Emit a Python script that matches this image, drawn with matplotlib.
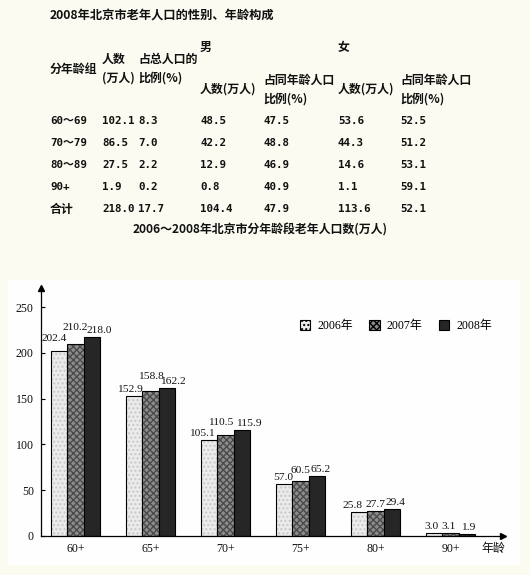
import matplotlib
matplotlib.use('Agg')
import matplotlib.pyplot as plt
import numpy as np
from matplotlib.patches import Rectangle, Patch

# table data (2008)
title = '2008年北京市老年人口的性别、年龄构成'
row_names = ['60～69', '70～79', '80～89', '90+', '合计']
total = [102.1, 86.5, 27.5, 1.9, 218.0]
share = [8.3, 7.0, 2.2, 0.2, 17.7]
male = [48.5, 42.2, 12.9, 0.8, 104.4]
male_pct = [47.5, 48.8, 46.9, 40.9, 47.9]
female = [53.6, 44.3, 14.6, 1.1, 113.6]
female_pct = [52.5, 51.2, 53.1, 59.1, 52.1]

# bar chart data
subtitle = '2006～2008年北京市分年龄段老年人口数(万人)'
age_groups = ['60+', '65+', '70+', '75+', '80+', '90+']
years = ['2006年', '2007年', '2008年']
pop_2006 = [202.4, 152.9, 105.1, 57.0, 25.8, 3.0]
pop_2007 = [210.2, 158.8, 110.5, 60.5, 27.7, 3.1]
pop_2008 = [218.0, 162.2, 115.9, 65.2, 29.4, 1.9]

W, H = 530, 575
fig = plt.figure(figsize=(W / 100, H / 100), dpi=100)
fig.patch.set_facecolor('#fcfbf1')

cjk = ['Noto Sans CJK SC', 'DejaVu Sans']
mono = ['DejaVu Sans Mono', 'Noto Sans CJK SC']
serif = ['Liberation Serif', 'Noto Sans CJK SC']


def put(x, y, s, fam=cjk, size=8.6, **kw):
    fig.text(x / W, 1 - y / H, s, family=fam, fontsize=size, fontweight='bold',
             va='center', ha=kw.pop('ha', 'left'), color='#111111', **kw)


# ---- table part ----
put(50, 15, title, size=8.8)
put(200, 47, '男')
put(338, 47, '女')
put(50, 69, '分年龄组')
put(102, 59, '人数')
put(102, 78, '(万人)')
put(138, 59, '占总人口的')
put(138, 78, '比例(%)')
put(200, 89, '人数(万人)')
put(263, 80, '占同年龄人口')
put(263, 99, '比例(%)')
put(338, 89, '人数(万人)')
put(400, 80, '占同年龄人口')
put(400, 99, '比例(%)')

col_x = [102, 138, 200, 263, 338, 400]
row_y = [121, 143, 165, 187, 209]
cols = [total, share, male, male_pct, female, female_pct]
for i, name in enumerate(row_names):
    if name == '合计':
        put(50, row_y[i], name, size=8.6)
    else:
        put(50, row_y[i], name, fam=mono, size=7.8)
    for cx, col in zip(col_x, cols):
        put(cx, row_y[i], '%.1f' % col[i], fam=mono, size=7.8)

put(260, 230, subtitle, size=8.6, ha='center')

# ---- chart panel ----
fig.patches.append(Rectangle((8 / W, 1 - 565 / H), 512 / W, 285 / H,
                             transform=fig.transFigure, facecolor='#fefefe',
                             edgecolor='none', zorder=-10))

ax = fig.add_axes([40.7 / W, 39 / H, (503 - 40.7) / W, 248 / H])
ax.set_facecolor('none')
ax.set_zorder(5)

x = np.arange(len(age_groups))
w = 0.218
series = [pop_2006, pop_2007, pop_2008]
faces = ['#ebebeb', '#8c8c8c', '#262626']
hatches = ['....', 'xxxxx', '']
hcolors = ['#c8c8c8', '#4a4a4a', '#262626']
# label nudges in pixels (per series, per group)
dx = [[-5, -4, -7, -1, -7, -3], [0, 0, -5, 0, 0, -2], [7, 6, 7, 4, 4, 1]]
lift = [[6, 0, 0, 0, 0, 0], [10, 8, 6, 4, 0, 0], [0, 0, 0, 0, 0, 0]]

for k, vals in enumerate(series):
    bars = ax.bar(x + (k - 1) * w, vals, w, color=faces[k], edgecolor='black',
                  linewidth=0.8, hatch=hatches[k], zorder=2)
    for b in bars:
        b._hatch_color = matplotlib.colors.to_rgba(hcolors[k])
    for j, v in enumerate(vals):
        ax.annotate('%.1f' % v, (x[j] + (k - 1) * w, v),
                    xytext=(dx[k][j], 2 + lift[k][j]), textcoords='offset pixels',
                    ha='center', va='bottom', family=serif, fontsize=8.2,
                    color='#111111', zorder=3)

ax.set_xlim(-0.464, 5.7)
ax.set_ylim(0, 271)
ax.set_yticks([0, 50, 100, 150, 200, 250])
ax.set_xticks(x)
ax.set_xticklabels(age_groups)
for lab in ax.get_xticklabels() + ax.get_yticklabels():
    lab.set_family(serif)
    lab.set_fontsize(8.6)
    lab.set_color('#111111')
ax.tick_params(axis='y', direction='in', length=3, width=0.8, pad=5)
ax.tick_params(axis='x', length=0, pad=5)
for s in ['top', 'right']:
    ax.spines[s].set_visible(False)
for s in ['left', 'bottom']:
    ax.spines[s].set_linewidth(0.9)
ax.plot(0, 1, marker='^', color='black', markersize=4, transform=ax.transAxes,
        clip_on=False)
ax.plot(1, 0, marker='>', color='black', markersize=4, transform=ax.transAxes,
        clip_on=False)
ax.text(0.98, -0.05, '年龄', transform=ax.transAxes, family=serif, fontsize=8.6,
        ha='center', va='center', color='#111111')

handles = [Patch(facecolor=faces[k], edgecolor='black', hatch=hatches[k], linewidth=0.8)
           for k in range(3)]
ax.legend(handles, years, loc='upper right', bbox_to_anchor=(0.995, 0.905), ncol=3,
          frameon=False, handlelength=0.85, handleheight=0.85, handletextpad=0.6,
          columnspacing=1.4, borderpad=0.2, prop={'family': serif, 'size': 8.6})

fig.savefig('out.png', dpi=100, facecolor=fig.get_facecolor())
